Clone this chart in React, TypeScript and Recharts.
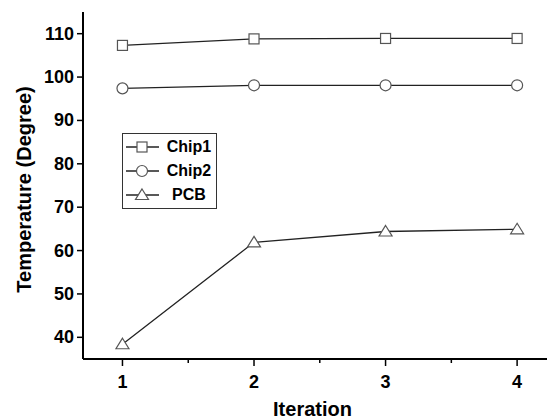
import React from 'react';
import { LineChart, Line, XAxis, YAxis, Legend } from 'recharts';

const iterations = [1, 2, 3, 4];
const chip1 = [107.3, 108.8, 108.9, 108.9];
const chip2 = [97.4, 98.1, 98.1, 98.1];
const pcb = [38.4, 61.9, 64.4, 64.9];

const xTicks = [1, 1.5, 2, 2.5, 3, 3.5, 4];
const yTicks = [40, 45, 50, 55, 60, 65, 70, 75, 80, 85, 90, 95, 100, 105, 110];

const seriesNames = ['Chip1', 'Chip2', 'PCB'];

const data = iterations.map((it, i) => ({
  iteration: it,
  chip1: chip1[i],
  chip2: chip2[i],
  pcb: pcb[i],
}));

const FONT = '"Liberation Sans", Arial, Helvetica, sans-serif';
const LINE = '#222';
const MARK = '#555';

// markers
const Marker = ({ kind, cx, cy }: { kind: string; cx: number; cy: number }) => {
  if (kind === 'square')
    return <rect x={cx - 5} y={cy - 5} width={10} height={10} fill="#fff" stroke={MARK} strokeWidth={1.2} />;
  if (kind === 'circle') return <circle cx={cx} cy={cy} r={5.5} fill="#fff" stroke={MARK} strokeWidth={1.2} />;
  return (
    <polygon
      points={`${cx},${cy - 6} ${cx + 6.5},${cy + 4.5} ${cx - 6.5},${cy + 4.5}`}
      fill="#fff"
      stroke={MARK}
      strokeWidth={1.2}
    />
  );
};

const dotFor = (kind: string) => (p: any) =>
  <Marker key={`${kind}-${p.index}`} kind={kind} cx={p.cx} cy={p.cy} />;

// ticks (tickSize/tickMargin are 0, so x/y sit on the axis line)
const BottomTick = ({ x, y, payload }: any) => {
  const major = Number.isInteger(payload.value);
  return (
    <g>
      <line x1={x} x2={x} y1={y} y2={y + (major ? 7 : 4)} stroke="#000" strokeWidth={1.5} />
      {major && (
        <text x={x} y={y + 29} textAnchor="middle" fontSize={18} fontWeight="bold" fontFamily={FONT} fill="#000">
          {payload.value}
        </text>
      )}
    </g>
  );
};

const TopTick = ({ x, y, payload }: any) => {
  const major = Number.isInteger(payload.value);
  return <line x1={x} x2={x} y1={y} y2={y + (major ? 6 : 3)} stroke="#000" strokeWidth={1.5} />;
};

const LeftTick = ({ x, y, payload }: any) => {
  const major = payload.value % 10 === 0;
  return (
    <g>
      <line x1={x} x2={x - (major ? 6 : 3)} y1={y} y2={y} stroke="#000" strokeWidth={1.5} />
      {major && (
        <text x={x - 9} y={y + 6} textAnchor="end" fontSize={18} fontWeight="bold" fontFamily={FONT} fill="#000">
          {payload.value}
        </text>
      )}
    </g>
  );
};

// right axis sits just past the cropped edge; only the inward ticks show
const RightTick = ({ x, y, payload }: any) => {
  const major = payload.value % 10 === 0;
  return <line x1={x} x2={x - (major ? 6 : 3)} y1={y} y2={y} stroke="#000" strokeWidth={1.5} />;
};

const LegendBox = () => {
  const kinds = ['square', 'circle', 'triangle'];
  return (
    <div
      style={{
        border: '1px solid #333',
        background: '#fff',
        padding: '1px 0',
        fontFamily: FONT,
        boxSizing: 'border-box',
      }}
    >
      {seriesNames.map((name, i) => (
        <div key={name} style={{ display: 'flex', alignItems: 'center', height: 24 }}>
          <svg width={40} height={24}>
            <line x1={3} x2={36} y1={12} y2={12} stroke={LINE} strokeWidth={1.3} />
            <Marker kind={kinds[i]} cx={19} cy={12} />
          </svg>
          <span style={{ width: 52, textAlign: 'center', fontSize: 16, fontWeight: 'bold', color: '#000' }}>{name}</span>
        </div>
      ))}
    </div>
  );
};

export default function App() {
  return (
    <div style={{ position: 'absolute', left: 0, top: 0, width: 547, height: 420, overflow: 'hidden', background: '#fff' }}>
      <LineChart width={560} height={420} data={data} margin={{ top: 12, right: 10, bottom: 0, left: 0 }}>
        <XAxis
          dataKey="iteration"
          type="number"
          domain={[0.7, 4.25]}
          ticks={xTicks}
          height={61}
          tickSize={0}
          tickMargin={0}
          tickLine={false}
          tick={BottomTick}
          axisLine={{ stroke: '#000', strokeWidth: 2 }}
          label={{
            content: (p: any) => {
              const vb = p.viewBox;
              return (
                <text x={vb.x + vb.width / 2 - 4} y={vb.y + 57} textAnchor="middle" fontSize={20} fontWeight="bold" fontFamily={FONT} fill="#000">
                  Iteration
                </text>
              );
            },
          }}
        />
        <XAxis
          xAxisId="top"
          orientation="top"
          dataKey="iteration"
          type="number"
          domain={[0.7, 4.25]}
          ticks={xTicks}
          height={0}
          tickSize={0}
          tickMargin={0}
          tickLine={false}
          tick={TopTick}
          axisLine={{ stroke: '#000', strokeWidth: 2 }}
        />
        <YAxis
          type="number"
          domain={[35, 115]}
          ticks={yTicks}
          width={83}
          tickSize={0}
          tickMargin={0}
          tickLine={false}
          tick={LeftTick}
          axisLine={{ stroke: '#000', strokeWidth: 2 }}
          label={{
            content: (p: any) => {
              const vb = p.viewBox;
              return (
                <text
                  transform={`translate(${vb.x + 31}, ${vb.y + vb.height / 2 + 4}) rotate(-90)`}
                  textAnchor="middle"
                  fontSize={20}
                  fontWeight="bold"
                  fontFamily={FONT}
                  fill="#000"
                >
                  Temperature (Degree)
                </text>
              );
            },
          }}
        />
        <YAxis
          yAxisId="right"
          orientation="right"
          type="number"
          domain={[35, 115]}
          ticks={yTicks}
          width={0}
          tickSize={0}
          tickMargin={0}
          tickLine={false}
          tick={RightTick}
          axisLine={false}
        />
        <Legend
          layout="vertical"
          align="center"
          verticalAlign="middle"
          content={<LegendBox />}
          wrapperStyle={{ position: 'absolute', left: 122, top: 133, width: 95 }}
        />
        <Line dataKey="chip1" stroke={LINE} strokeWidth={1.3} dot={dotFor('square')} activeDot={false} isAnimationActive={false} />
        <Line dataKey="chip2" stroke={LINE} strokeWidth={1.3} dot={dotFor('circle')} activeDot={false} isAnimationActive={false} />
        <Line dataKey="pcb" stroke={LINE} strokeWidth={1.3} dot={dotFor('triangle')} activeDot={false} isAnimationActive={false} />
      </LineChart>
    </div>
  );
}
